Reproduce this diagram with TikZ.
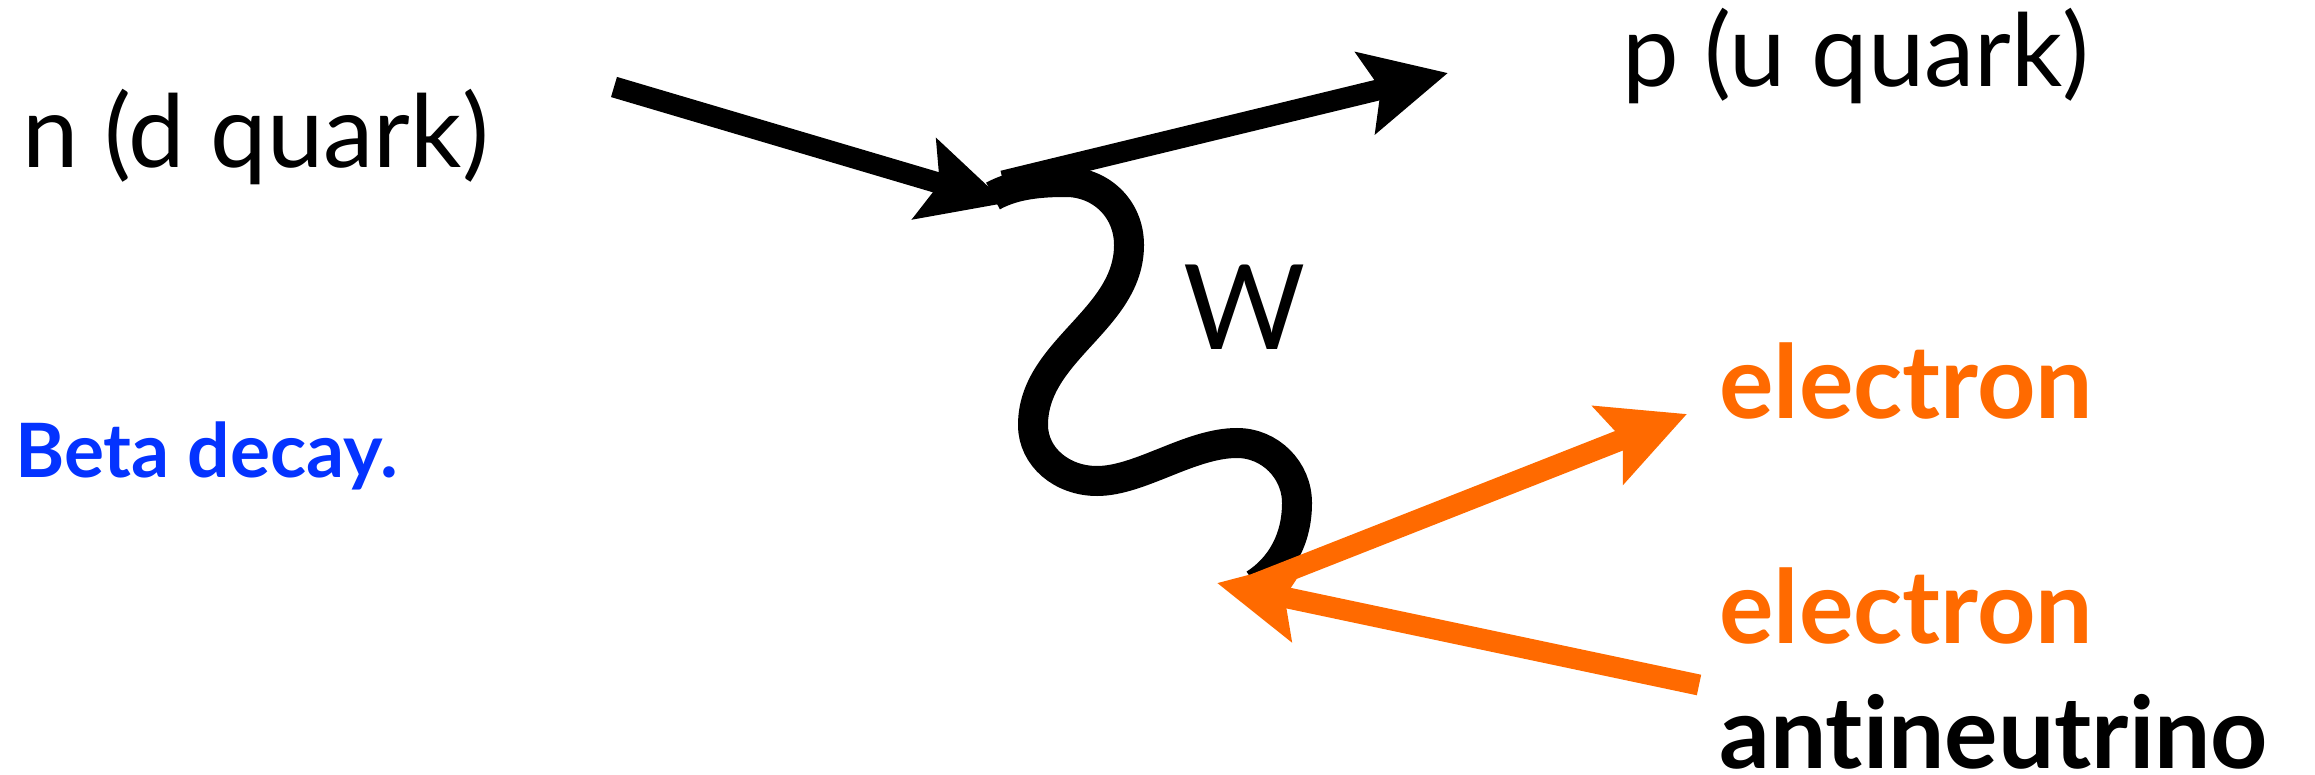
\documentclass[tikz,border=0pt]{standalone}
\usepackage{fontspec}
\setmainfont{Lato}[Ligatures=NoCommon]
\usetikzlibrary{arrows.meta}
\definecolor{leptonorange}{RGB}{255,106,0}
\definecolor{titleblue}{RGB}{4,51,255}
\begin{document}
\begin{tikzpicture}[x=1pt,y=-1pt]
        \tikzstyle{label}=[anchor=base west,inner sep=0pt,font=\fontsize{101}{101}\selectfont]
        \tikzstyle{boldlabel}=[label,font=\fontsize{102}{102}\selectfont\bfseries]
        \tikzstyle{fermion}=[draw,line width=21pt,-{Stealth[length=84pt,width=82pt,inset=15pt]}]
        \tikzstyle{wboson}=[draw,line width=30pt]
        \useasboundingbox (0,0) rectangle (2315,775);
        \begin{scope}
                \coordinate (dtail) at (614,87);
                \coordinate (vin) at (1006,203);
                \coordinate (vout) at (1003,181);
                \coordinate (vw) at (993,196);
                \coordinate (utip) at (1448,73);
                \coordinate (evtx) at (1255,584);
                \coordinate (etip) at (1687,414);
                \coordinate (nutail) at (1699,685);
                \coordinate (nutip) at (1217,583);
                \path[wboson] (vw) .. controls (1015,184) and (1041,182) .. (1066,182)
                        .. controls (1100,182) and (1129,208) .. (1129,245)
                        .. controls (1129,320) and (1033,350) .. (1033,425)
                        .. controls (1033,457) and (1062,481) .. (1097,481)
                        .. controls (1140,481) and (1190,443) .. (1237,443)
                        .. controls (1270,443) and (1297,470) .. (1297,503)
                        .. controls (1297,540) and (1280,568) .. (evtx);
                \path[fermion] (dtail) -- (vin);
                \path[fermion] (vout) -- (utip);
                \path[fermion,leptonorange] (evtx) -- (etip);
                \path[fermion,leptonorange] (nutail) -- (nutip);
        \end{scope}
        \node [label] (nq) at (22,168) {n (d quark)};
        \node [label] (pq) at (1622,87) {p (u quark)};
        \node [label,font=\fontsize{118}{118}\selectfont] (wlab) at (1183,350) {W};
        \node [boldlabel,font=\fontsize{75}{75}\selectfont\bfseries,text=titleblue] (beta) at (15,477) {Beta decay.};
        \node [boldlabel,text=leptonorange] (elec) at (1719,418) {electron};
        \node [boldlabel,text=leptonorange] (elecnu) at (1719,643) {electron};
        \node [boldlabel,font=\fontsize{100}{100}\selectfont\bfseries] (anti) at (1719,768) {antineutrino};
\end{tikzpicture}
\end{document}
